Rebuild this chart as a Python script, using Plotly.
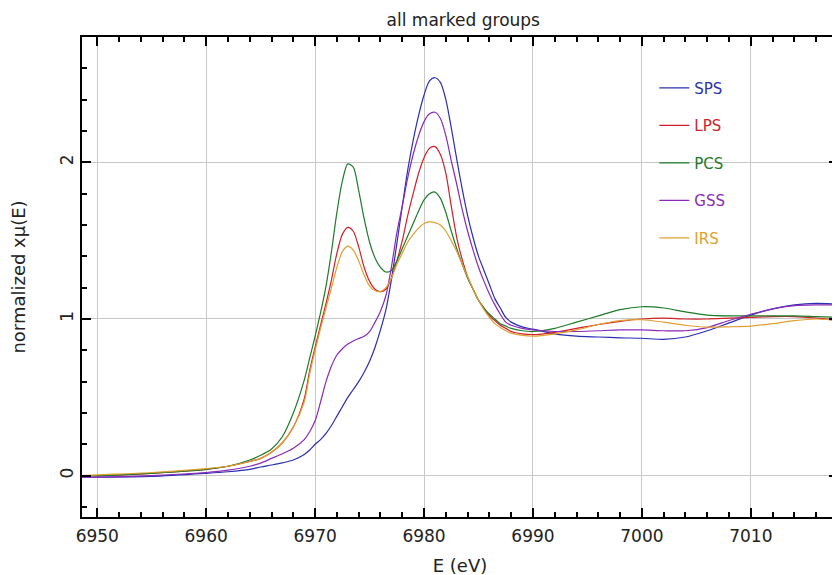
import plotly.graph_objects as go

energy = [6948.6, 6950, 6955, 6960, 6962, 6964, 6965, 6966, 6967, 6968, 6969, 6969.5,
          6970, 6970.5, 6971, 6971.5, 6972, 6972.5, 6973, 6973.5, 6974, 6974.5, 6975, 6975.5,
          6976, 6976.5, 6977, 6977.5, 6978, 6978.5, 6979, 6979.5, 6980, 6980.5, 6981, 6981.5,
          6982, 6982.5, 6983, 6983.5, 6984, 6984.5, 6985, 6985.5, 6986, 6986.5, 6987, 6987.5,
          6988, 6989, 6990, 6992, 6994, 6996, 6998, 7000, 7002, 7004, 7006, 7008, 7010, 7012,
          7014, 7016, 7018]

sps = [-0.01, -0.01, -0.005, 0.015, 0.025, 0.04, 0.055, 0.068, 0.082, 0.10, 0.135, 0.164,
       0.20, 0.23, 0.27, 0.32, 0.38, 0.44, 0.50, 0.55, 0.60, 0.66, 0.73, 0.82,
       0.93, 1.06, 1.25, 1.48, 1.72, 1.95, 2.14, 2.30, 2.43, 2.52, 2.54, 2.51,
       2.40, 2.22, 2.02, 1.83, 1.66, 1.52, 1.40, 1.31, 1.22, 1.13, 1.07, 1.01,
       0.98, 0.95, 0.935, 0.905, 0.89, 0.885, 0.88, 0.877, 0.87, 0.885, 0.925, 0.975, 1.025, 1.065,
       1.09, 1.10, 1.095]

lps = [0.0, 0.0, 0.015, 0.04, 0.06, 0.09, 0.11, 0.15, 0.21, 0.31, 0.49, 0.67,
       0.82, 0.96, 1.10, 1.25, 1.42, 1.54, 1.585, 1.56, 1.46, 1.33, 1.24, 1.19,
       1.175, 1.19, 1.26, 1.37, 1.50, 1.66, 1.80, 1.93, 2.03, 2.09, 2.10, 2.05,
       1.93, 1.72, 1.52, 1.38, 1.27, 1.19, 1.12, 1.07, 1.02, 0.99, 0.96, 0.94,
       0.92, 0.905, 0.90, 0.915, 0.94, 0.965, 0.985, 1.0, 1.005, 1.0, 1.0, 1.005, 1.01, 1.015,
       1.015, 1.005, 0.99]

pcs = [0.0, 0.0, 0.015, 0.04, 0.06, 0.10, 0.13, 0.17, 0.25, 0.40, 0.61, 0.75,
       0.89, 1.04, 1.21, 1.43, 1.68, 1.88, 1.99, 1.97, 1.82, 1.64, 1.49, 1.39,
       1.33, 1.30, 1.31, 1.37, 1.45, 1.53, 1.61, 1.69, 1.76, 1.80, 1.81, 1.77,
       1.68, 1.56, 1.45, 1.35, 1.26, 1.19, 1.12, 1.07, 1.03, 1.0, 0.97, 0.955,
       0.94, 0.925, 0.92, 0.94, 0.98, 1.02, 1.06, 1.078, 1.07, 1.045, 1.025, 1.02, 1.02, 1.02,
       1.02, 1.015, 1.01]

gss = [-0.01, -0.01, 0.0, 0.02, 0.035, 0.06, 0.08, 0.11, 0.14, 0.175, 0.23, 0.28,
       0.35, 0.47, 0.60, 0.70, 0.77, 0.81, 0.84, 0.86, 0.875, 0.89, 0.92, 0.98,
       1.05, 1.15, 1.33, 1.55, 1.72, 1.90, 2.05, 2.17, 2.26, 2.31, 2.32, 2.28,
       2.17, 2.01, 1.86, 1.70, 1.56, 1.44, 1.33, 1.24, 1.16, 1.09, 1.03, 0.98,
       0.96, 0.94, 0.93, 0.92, 0.92, 0.925, 0.93, 0.93, 0.925, 0.925, 0.945, 0.99, 1.03, 1.065,
       1.085, 1.09, 1.09]

irs = [0.0, 0.005, 0.02, 0.045, 0.06, 0.09, 0.11, 0.15, 0.21, 0.31, 0.47, 0.65,
       0.80, 0.94, 1.07, 1.20, 1.33, 1.43, 1.465, 1.44, 1.37, 1.28, 1.21, 1.18,
       1.175, 1.20, 1.26, 1.35, 1.42, 1.49, 1.54, 1.58, 1.61, 1.62, 1.615, 1.60,
       1.56, 1.50, 1.43, 1.35, 1.27, 1.19, 1.12, 1.06, 1.01, 0.97, 0.945, 0.925,
       0.91, 0.895, 0.89, 0.905, 0.93, 0.965, 0.99, 0.995, 0.98, 0.96, 0.948, 0.95, 0.955, 0.97,
       0.99, 1.0, 0.99]

series_names = ["SPS", "LPS", "PCS", "GSS", "IRS"]
series_values = [sps, lps, pcs, gss, irs]
series_colors = ["#2b2fb0", "#d0202a", "#1f7a2a", "#8a2ab8", "#e0a030"]

x_ticks = [6950, 6960, 6970, 6980, 6990, 7000, 7010]
y_ticks = [0, 1, 2]

fig = go.Figure()
for name, vals, col in zip(series_names, series_values, series_colors):
    fig.add_trace(go.Scatter(
        x=energy, y=vals, mode="lines", line=dict(color=col, width=1.2, shape="spline", smoothing=0.8),
        name=f'<span style="color:{col}">{name}</span>', legendgroup=name,
    ))

FONT = "DejaVu Sans"
axis_common = dict(
    showline=True, linecolor="black", linewidth=1.5, mirror="allticks",
    ticks="inside", ticklen=9, tickwidth=1.5, tickcolor="black",
    showgrid=True, gridcolor="#c8c8c8", gridwidth=1, zeroline=False, automargin=False,
    tickfont=dict(family=FONT, size=17, color="#222"),
)

# page has an 8px body margin; margins compensate so the plot lands at the reference position
fig.update_layout(
    width=840, height=575,
    margin=dict(l=74, r=10, t=29, b=66),
    paper_bgcolor="white", plot_bgcolor="white",
    title=dict(text="all marked groups", x=0.542, xanchor="center", y=0.979, yanchor="middle",
               font=dict(family=FONT, size=17, color="#222")),
    xaxis=dict(range=[6948.6, 7018.0], tickvals=x_ticks, ticklabelstandoff=3,
               minor=dict(ticks="inside", dtick=2, ticklen=5, tickcolor="black", showgrid=False),
               title=dict(text="E (eV)", font=dict(family=FONT, size=18, color="#222"), standoff=14),
               **axis_common),
    yaxis=dict(range=[-0.264, 2.80], tickvals=y_ticks, tickangle=-90,
               minor=dict(ticks="inside", dtick=0.2, ticklen=5, tickcolor="black", showgrid=False),
               title=dict(text="normalized xμ(E)", font=dict(family=FONT, size=18, color="#222"), standoff=27),
               **axis_common),
    legend=dict(x=0.757, y=0.928, xanchor="left", yanchor="top", bgcolor="rgba(0,0,0,0)",
                borderwidth=0, font=dict(family=FONT, size=15), tracegroupgap=15),
    showlegend=True,
)

fig.write_html("out.html")
